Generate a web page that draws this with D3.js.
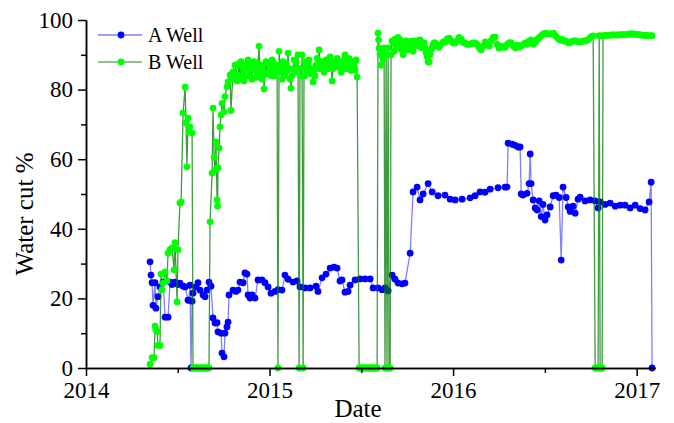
<!DOCTYPE html>
<html>
<head>
<meta charset="utf-8">
<script src="https://cdn.jsdelivr.net/npm/d3@7"></script>
<style>
  body { margin: 0; background: #fff; }
  svg text { font-family: "Liberation Serif", "Times New Roman", serif !important; fill: #000; }
  .axis path, .axis line { stroke: #000; stroke-width: 1.5px; }
</style>
</head>
<body>
<svg id="chart"></svg>
<script>
// chart data (decimal year, water cut %)
var series_names = ['A Well', 'B Well'];
var x_ticks = [2014, 2015, 2016, 2017];
var x_minor = [2014.5, 2015.5, 2016.5];
var y_ticks = [0, 20, 40, 60, 80, 100];
var y_minor = [10, 30, 50, 70, 90];

var well_a = [
  [2014.349,30.5],[2014.354,26.7],[2014.360,24.5],[2014.365,18],[2014.376,24.5],[2014.381,17.2],
  [2014.392,20.5],[2014.403,23.3],[2014.420,24.7],[2014.431,14.6],[2014.447,14.6],[2014.458,24.7],
  [2014.469,24],[2014.485,24.7],[2014.501,24],[2014.512,24.4],[2014.529,23.5],[2014.540,23.3],
  [2014.556,19.5],[2014.561,19.5],[2014.567,23.8],[2014.572,0],[2014.578,19.2],[2014.583,21.5],
  [2014.599,23.3],[2014.610,24.5],[2014.621,22.4],[2014.638,21],[2014.649,20.5],[2014.659,22.4],
  [2014.670,24.7],[2014.681,23.5],[2014.692,14.4],[2014.703,12.9],[2014.714,13],[2014.719,10.4],
  [2014.736,10],[2014.741,4.3],[2014.752,3.2],[2014.757,10],[2014.768,11.8],[2014.774,13.2],
  [2014.779,21],[2014.801,22.4],[2014.817,22],[2014.828,22.4],[2014.839,24.7],[2014.856,24.5],
  [2014.866,27.3],[2014.877,27],[2014.883,21],[2014.894,20.1],[2014.905,21],[2014.921,20.1],
  [2014.937,25.3],[2014.959,25.3],[2014.975,24.5],[2014.992,23.3],
  [2015.008,21.5],[2015.030,22],[2015.046,22.5],[2015.068,22.4],[2015.084,26.7],[2015.101,25.5],
  [2015.128,24.7],[2015.150,25],[2015.166,23.3],[2015.193,23],[2015.221,23],[2015.253,23.5],
  [2015.264,22],[2015.286,25.9],[2015.308,27],[2015.330,28.7],[2015.351,29],[2015.368,28.7],
  [2015.384,25],[2015.395,25.3],[2015.411,21.8],[2015.428,22],[2015.439,23.8],[2015.466,25.3],
  [2015.493,25.6],[2015.520,25.6],[2015.548,25.6],[2015.564,23],[2015.591,23],[2015.613,22.5],
  [2015.629,23],[2015.646,22.2],[2015.668,26.7],[2015.684,25.5],[2015.700,24.4],[2015.722,24.2],
  [2015.738,24.4],[2015.766,33],[2015.782,50.6],[2015.804,52],[2015.820,48.3],[2015.837,50],
  [2015.864,53],[2015.886,50.6],[2015.918,49.5],[2015.956,49.7],[2015.984,48.5],
  [2016.011,48.3],[2016.049,48.5],[2016.093,48.9],[2016.120,49.5],[2016.147,50.6],[2016.174,50.5],
  [2016.202,51.4],[2016.245,51.8],[2016.283,52],[2016.294,52],[2016.300,64.6],[2016.322,64.3],
  [2016.338,64],[2016.354,63.5],[2016.365,63.5],[2016.371,50],[2016.381,49.7],[2016.403,50.2],
  [2016.414,53],[2016.420,61.5],[2016.425,53],[2016.436,48.3],[2016.447,46],[2016.458,45.4],
  [2016.469,48],[2016.480,43.5],[2016.490,47],[2016.501,42.5],[2016.512,44],[2016.529,46.3],
  [2016.545,49.5],[2016.561,49.7],[2016.578,49],[2016.589,31],[2016.599,52],[2016.616,49],
  [2016.627,46.3],[2016.638,45],[2016.654,46.5],[2016.665,44.5],[2016.681,48.5],[2016.692,49.1],
  [2016.719,48],[2016.747,48.3],[2016.774,48],[2016.790,46],[2016.801,47.7],[2016.828,47],
  [2016.856,47.4],[2016.883,46.5],[2016.910,46.8],[2016.937,46.8],[2016.965,46],[2016.992,46.8],
  [2017.019,45.8],[2017.046,45.4],[2017.068,47.7],[2017.079,53.4],[2017.084,0]
];

var well_b = [
  [2014.349,1],[2014.360,3],[2014.371,3],[2014.376,12],[2014.381,11],[2014.387,10.5],
  [2014.392,6.5],[2014.403,6.5],[2014.409,27],[2014.414,22.5],[2014.420,24.4],[2014.431,27.6],
  [2014.441,25],[2014.447,33],[2014.458,34],[2014.469,34.5],[2014.480,28.2],[2014.485,36],
  [2014.496,19],[2014.501,34],[2014.512,47.4],[2014.518,47.7],[2014.529,73.3],[2014.540,80.7],
  [2014.545,70.4],[2014.550,57.8],[2014.556,71.8],[2014.561,67.8],[2014.567,69.3],[2014.578,67.5],
  [2014.583,0],[2014.589,0],[2014.594,0],[2014.600,0],[2014.605,0],[2014.611,0],[2014.616,0],
  [2014.622,0],[2014.627,0],[2014.632,0],[2014.638,0],[2014.643,0],[2014.649,0],[2014.654,0],
  [2014.660,0],[2014.665,0],[2014.670,0],
  [2014.676,42],[2014.687,56],[2014.692,74.7],[2014.698,60.6],[2014.703,56.9],[2014.708,65],
  [2014.714,48.3],[2014.717,46.5],[2014.719,57.5],[2014.725,63.2],[2014.730,69.3],[2014.736,72.7],
  [2014.741,76],[2014.752,73.6],[2014.757,78],[2014.768,80.8],[2014.774,82.2],[2014.785,84.2],
  [2014.790,74],[2014.801,85],[2014.806,83],[2014.812,87],[2014.817,86.5],[2014.823,82.5],
  [2014.828,84],[2014.834,87.5],[2014.839,83],[2014.845,88],[2014.850,84],[2014.856,86],
  [2014.861,82.5],[2014.866,85],[2014.872,87],[2014.877,84],[2014.883,88.5],[2014.888,86],
  [2014.894,84],[2014.899,87.5],[2014.905,83],[2014.910,86],[2014.916,88],[2014.921,87],
  [2014.927,83.5],[2014.932,85],[2014.937,87.5],[2014.943,92.5],[2014.948,84],[2014.954,86],
  [2014.959,83],[2014.965,87],[2014.970,80.2],[2014.976,85],[2014.981,88],[2014.986,84.5],
  [2014.992,85],[2014.997,87.5],
  [2015.003,86],[2015.008,84],[2015.014,88.5],[2015.019,88],[2015.025,85],[2015.030,84],
  [2015.036,87],[2015.041,86],[2015.046,0],[2015.052,91],[2015.057,87],[2015.063,85],
  [2015.068,83],[2015.074,88],[2015.079,86],[2015.085,84],[2015.090,87.5],[2015.095,85.6],
  [2015.101,90.5],[2015.106,86],[2015.112,83],[2015.117,80.4],[2015.123,84],[2015.128,86],
  [2015.134,88.5],[2015.139,85],[2015.144,88],[2015.150,86],[2015.155,90],[2015.161,0],
  [2015.166,86],[2015.172,84],[2015.177,90],[2015.183,0],[2015.188,88],[2015.193,84],
  [2015.199,86.5],[2015.204,85],[2015.210,87],[2015.215,88.5],[2015.221,86],[2015.226,84.5],
  [2015.232,85],[2015.237,82.2],[2015.243,86],[2015.248,84],[2015.253,87],[2015.259,89],
  [2015.264,86],[2015.270,91.4],[2015.275,88],[2015.281,88],[2015.286,86],[2015.292,87.5],
  [2015.297,85],[2015.302,87],[2015.308,88.5],[2015.313,86],[2015.319,86],[2015.324,88],
  [2015.330,89.4],[2015.335,87],[2015.341,82.5],[2015.346,86],[2015.352,88],[2015.357,86.5],
  [2015.362,87],[2015.368,89],[2015.373,88],[2015.379,86.5],[2015.384,87.6],[2015.390,85],
  [2015.395,88],[2015.400,86],[2015.406,88.5],[2015.411,90],[2015.417,87],[2015.422,86],
  [2015.428,88],[2015.433,89],[2015.439,87],[2015.444,85.5],[2015.450,88],[2015.455,88],
  [2015.461,86.5],[2015.466,85.6],[2015.472,88.5],[2015.477,83.6],
  [2015.488,0],[2015.494,0],[2015.499,0],[2015.505,0],[2015.510,0],[2015.516,0],[2015.521,0],
  [2015.527,0],[2015.532,0],[2015.537,0],[2015.543,0],[2015.548,0],[2015.554,0],[2015.559,0],
  [2015.565,0],[2015.570,0],[2015.576,0],[2015.581,0],[2015.586,0],
  [2015.591,96.2],[2015.594,94.3],[2015.597,91.9],[2015.602,90],[2015.608,87],[2015.613,91],
  [2015.619,88.7],[2015.624,92],[2015.629,0],[2015.635,90],[2015.640,0],[2015.646,92],
  [2015.651,0],[2015.657,0],[2015.662,90],[2015.668,94],[2015.673,93.4],[2015.679,91],
  [2015.684,94.5],[2015.690,92],[2015.695,92.2],[2015.700,95],[2015.706,93],[2015.711,94.3],
  [2015.717,91.5],[2015.722,93],[2015.728,90],[2015.733,92.5],[2015.738,91.4],[2015.744,94],
  [2015.749,92],[2015.755,93],[2015.760,91.5],[2015.766,93.7],[2015.771,92],[2015.777,94],
  [2015.782,91],[2015.788,92.5],[2015.793,92.8],[2015.799,94],[2015.804,93],[2015.809,93.5],
  [2015.815,92.5],[2015.820,94.3],[2015.826,93],[2015.831,92],[2015.837,92],[2015.842,93.5],
  [2015.847,91.9],[2015.853,90.5],[2015.858,89.5],[2015.864,88],[2015.869,88],[2015.875,90],
  [2015.880,91.5],[2015.886,92],[2015.891,93],[2015.897,93.4],[2015.902,93.4],[2015.913,92.5],
  [2015.924,92.2],[2015.935,93],[2015.946,93.7],[2015.956,93.7],[2015.967,94.5],[2015.978,94.8],
  [2015.989,94],
  [2016.000,93.4],[2016.011,93.4],[2016.022,94],[2016.033,95],[2016.044,94.5],[2016.055,93.5],
  [2016.065,93.4],[2016.076,93],[2016.087,93],[2016.098,93.2],[2016.109,93.4],[2016.120,93.4],
  [2016.131,93],[2016.142,92],[2016.153,91.4],[2016.164,92.5],[2016.175,93.7],[2016.186,93],
  [2016.197,92.5],[2016.207,94],[2016.218,95],[2016.229,95.1],[2016.240,93],[2016.251,91.9],
  [2016.262,92.5],[2016.273,92.2],[2016.284,92.2],[2016.295,93],[2016.306,93.5],[2016.317,93.4],
  [2016.328,92.5],[2016.339,92],[2016.350,92.8],[2016.361,92.2],[2016.372,92.5],[2016.383,93],
  [2016.394,93.4],[2016.404,93],[2016.415,94],[2016.426,94.3],[2016.437,93],[2016.448,93.5],
  [2016.459,94.5],[2016.470,95],[2016.481,95.5],[2016.492,96],[2016.503,96.2],[2016.514,96],
  [2016.525,96],[2016.536,96],[2016.547,96.2],[2016.558,95.5],[2016.569,94.8],[2016.580,94.3],
  [2016.591,94.5],[2016.601,94],[2016.612,94],[2016.623,93.6],[2016.634,93.4],[2016.645,93.8],
  [2016.656,94],[2016.667,94],[2016.678,93.8],[2016.689,93.7],[2016.700,93.8],[2016.711,94],
  [2016.722,94],[2016.733,94.3],[2016.744,94.8],[2016.755,95.3],[2016.763,95.4],[2016.774,0],
  [2016.779,0],[2016.785,0],[2016.790,0],[2016.796,95.5],[2016.801,0],[2016.807,0],[2016.812,0],
  [2016.817,95.5],[2016.828,95.6],[2016.839,95.6],[2016.850,95.6],[2016.861,95.7],[2016.872,95.7],
  [2016.883,95.7],[2016.894,95.7],[2016.905,95.7],[2016.916,95.8],[2016.927,95.8],[2016.938,95.8],
  [2016.948,95.8],[2016.959,96],[2016.970,96],[2016.981,96],[2016.992,95.9],
  [2017.003,95.8],[2017.014,95.8],[2017.025,95.7],[2017.036,95.6],[2017.047,95.6],[2017.058,95.5],
  [2017.069,95.5],[2017.084,95.5]
];

// board size
var svg_w = 674, svg_h = 423;
var pad_left = 86, pad_right = 19, pad_top = 20, pad_bottom = 55;

var svg = d3.select('#chart').attr('width', svg_w).attr('height', svg_h);

var x_scale = d3.scaleLinear().domain([2014, 2017.1]).range([pad_left, svg_w - pad_right]);
var y_scale = d3.scaleLinear().domain([0, 100]).range([svg_h - pad_bottom, pad_top]);

// axes (major + minor ticks, outward)
var x_axis = d3.axisBottom(x_scale).tickValues(x_ticks).tickFormat(d3.format('d'))
  .tickSizeInner(8).tickSizeOuter(0).tickPadding(6);
var x_axis_minor = d3.axisBottom(x_scale).tickValues(x_minor).tickFormat('')
  .tickSizeInner(5).tickSizeOuter(0);
var y_axis = d3.axisLeft(y_scale).tickValues(y_ticks).tickFormat(d3.format('d'))
  .tickSizeInner(8).tickSizeOuter(0).tickPadding(5);
var y_axis_minor = d3.axisLeft(y_scale).tickValues(y_minor).tickFormat('')
  .tickSizeInner(5).tickSizeOuter(0);

// series lines + markers
function draw_series(data, line_color, line_op, dot_color){
  var g = svg.append('g');
  var line = d3.line().x(function(d){ return x_scale(d[0]); }).y(function(d){ return y_scale(d[1]); });
  g.append('path').datum(data).attr('d', line)
    .attr('fill', 'none').attr('stroke', line_color)
    .attr('stroke-width', 1.3).attr('stroke-opacity', line_op);
  g.selectAll('circle').data(data).enter().append('circle')
    .attr('cx', function(d){ return x_scale(d[0]); })
    .attr('cy', function(d){ return y_scale(d[1]); })
    .attr('r', 3.4).attr('fill', dot_color);
}
draw_series(well_a, '#0000ff', 0.5, '#0000ff');
draw_series(well_b, '#007a00', 0.75, '#00ff00');

function draw_axis(ax, tr){
  var g = svg.append('g').attr('class', 'axis').attr('transform', tr).call(ax);
  g.attr('font-family', null);
  g.selectAll('text').style('font-size', '23px');
  return g;
}
draw_axis(x_axis, 'translate(0,' + (svg_h - pad_bottom) + ')');
draw_axis(x_axis_minor, 'translate(0,' + (svg_h - pad_bottom) + ')');
draw_axis(y_axis, 'translate(' + pad_left + ',0)');
draw_axis(y_axis_minor, 'translate(' + pad_left + ',0)');

// axis titles
svg.append('text').attr('x', 358).attr('y', 417).attr('text-anchor', 'middle')
  .attr('font-size', 25).text('Date');
svg.append('text').attr('transform', 'translate(33,214) rotate(-90)').attr('text-anchor', 'middle')
  .attr('font-size', 25).text('Water cut %');

// legend
var legend_colors = [['#0000ff', 0.5, '#0000ff'], ['#007a00', 0.6, '#00ff00']];
series_names.forEach(function(name, i){
  var ly = 35 + i * 27;
  var lg = svg.append('g');
  lg.append('line').attr('x1', 98).attr('x2', 142).attr('y1', ly).attr('y2', ly)
    .attr('stroke', legend_colors[i][0]).attr('stroke-width', 1.5).attr('stroke-opacity', legend_colors[i][1]);
  lg.append('circle').attr('cx', 121).attr('cy', ly).attr('r', 3.4).attr('fill', legend_colors[i][2]);
  lg.append('text').attr('x', 148).attr('y', ly + 7).attr('font-size', 20).text(name);
});
</script>
</body>
</html>
